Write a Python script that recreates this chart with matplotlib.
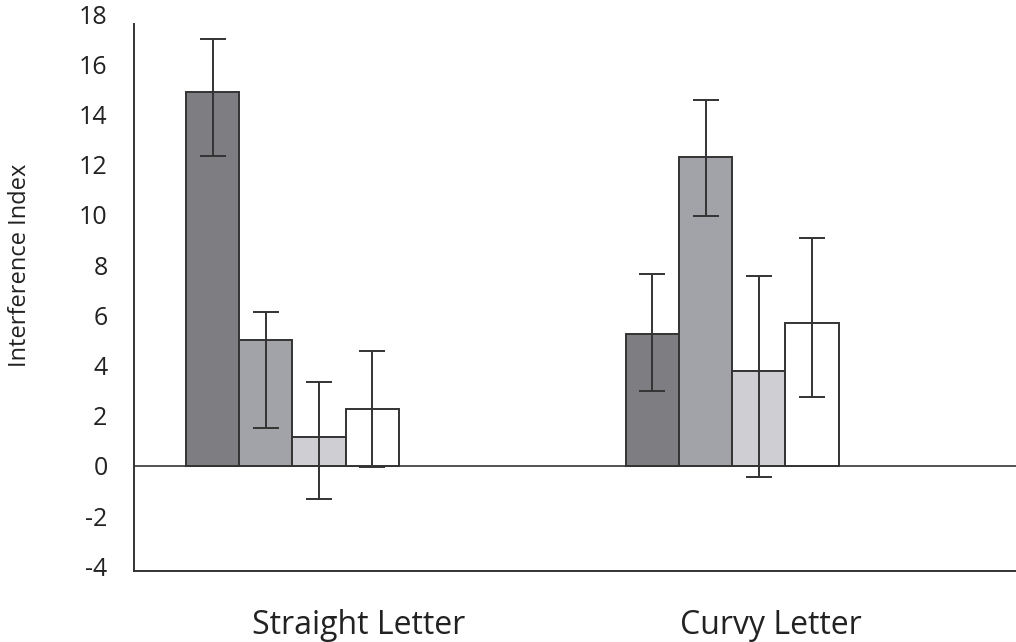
import matplotlib.pyplot as plt
import numpy as np

plt.rcParams['font.family'] = ['Open Sans', 'DejaVu Sans']

groups = ["Straight Letter", "Curvy Letter"]
bar_colors = ["#7e7d82", "#a1a3a8", "#cfcfd3", "#ffffff"]

# values per condition (4 bars per group)
means = [
    [14.9, 5.0, 1.15, 2.25],
    [5.25, 12.3, 3.8, 5.7],
]
err_top = [
    [17.0, 6.15, 3.35, 4.6],
    [7.65, 14.6, 7.55, 9.1],
]
err_bottom = [
    [12.35, 1.5, -1.3, -0.05],
    [3.0, 9.95, -0.45, 2.75],
]
yticks = [-4, -2, 0, 2, 4, 6, 8, 10, 12, 14, 16, 18]

fig = plt.figure(figsize=(10.16, 6.42), dpi=100)
ax = fig.add_axes([134 / 1016, 0.11, 1 - 134 / 1016, 0.8757])

width = 0.121
x = np.arange(len(groups))
ax.axhline(0, color="#444444", lw=1.3, zorder=1)
for i in range(4):
    pos = x + (i - 1.5) * width
    m = np.array([row[i] for row in means])
    top = np.array([row[i] for row in err_top])
    bot = np.array([row[i] for row in err_bottom])
    ax.bar(pos, m, width, color=bar_colors[i], edgecolor="#333333", lw=1.4, zorder=2)
    ax.errorbar(pos, m, yerr=[m - bot, top - m], fmt="none", ecolor="#333333",
                elinewidth=1.4, capsize=9.5, capthick=1.4, zorder=3)

ax.set_xlim(-0.36, 1.645)
ax.set_ylim(-4.2, 18.2)
ax.set_yticks(yticks)
ax.set_yticklabels([str(t) for t in yticks], fontsize=18, color="#222222")
# category labels sit a little right of the bar groups
ax.set_xticks(x + np.array([0.15, 0.087]))
ax.set_xticklabels(groups, fontsize=23, color="#222222")
ax.tick_params(axis="y", length=0, pad=19)
ax.tick_params(axis="x", length=0, pad=27)
ax.set_ylabel("Interference Index", fontsize=17, color="#222222")
ax.yaxis.set_label_coords(-0.116, 0.545)

for s in ["top", "right"]:
    ax.spines[s].set_visible(False)
ax.spines["left"].set_bounds(-4.2, 17.6)
ax.spines["left"].set_color("#333333")
ax.spines["bottom"].set_color("#333333")
ax.spines["left"].set_linewidth(1.4)
ax.spines["bottom"].set_linewidth(1.4)

fig.savefig("out.png", dpi=100)
